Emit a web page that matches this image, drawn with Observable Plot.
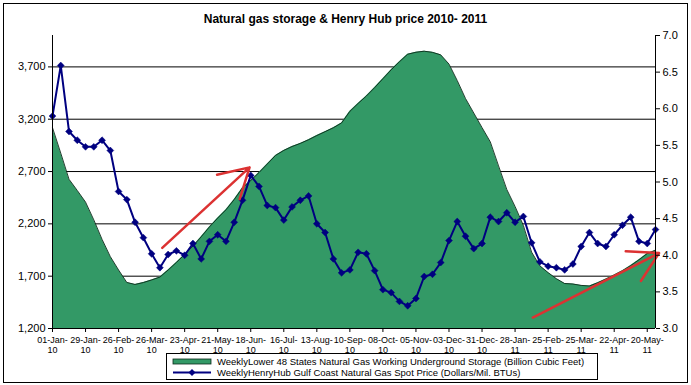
<!DOCTYPE html>
<html>
<head>
<meta charset="utf-8">
<script src="https://cdn.jsdelivr.net/npm/d3@7"></script>
<script src="https://cdn.jsdelivr.net/npm/@observablehq/plot@0.6"></script>
<style>
  html, body { margin: 0; padding: 0; background: #fff; }
  #wrap { position: relative; width: 691px; height: 385px; background: #fff;
          font-family: "Liberation Sans", Arial, sans-serif; color: #000; overflow: hidden; }
  #frame { position: absolute; left: 3px; top: 3px; width: 685px; height: 380px;
           border: 1.5px solid #000; box-sizing: border-box; }
  #title { position: absolute; left: 0; top: 11px; width: 691px; text-align: center;
           font-weight: bold; font-size: 12px; line-height: 16px; }
  #chart { position: absolute; left: 0; top: 0; }
  #legend { position: absolute; left: 166px; top: 353px; width: 432px; height: 27px;
            border: 1px solid #000; box-sizing: border-box; font-size: 9.5px; background: #fff; }
  .row { position: absolute; left: 5px; height: 11px; display: flex; align-items: center; white-space: nowrap; }
  .row svg { margin-right: 5px; }
</style>
</head>
<body>
<div id="wrap">
  <div id="frame"></div>
  <div id="chart"></div>
  <div id="title"></div>
  <div id="legend"></div>
</div>
<script>
// ---- data ----
const chartTitle = "Natural gas storage & Henry Hub price 2010- 2011";
const seriesNames = [
  "WeeklyLower 48 States Natural Gas Working Underground Storage (Billion Cubic Feet)",
  "WeeklyHenryHub Gulf Coast Natural Gas Spot Price (Dollars/Mil. BTUs)"
];
const firstWeek = "2010-01-01"; // weekly observations (Fridays)
const storage = [3119, 2876, 2626, 2519, 2408, 2238, 2052, 1887, 1759, 1640,
  1621, 1639, 1664, 1691, 1759, 1831, 1908, 1987, 2076, 2171,
  2255, 2334, 2433, 2544, 2614, 2690, 2772, 2854, 2902, 2939,
  2969, 3004, 3044, 3081, 3118, 3165, 3275, 3351, 3422, 3502,
  3587, 3672, 3749, 3821, 3840, 3850, 3839, 3815, 3727, 3569,
  3398, 3259, 3120, 2984, 2754, 2528, 2366, 2186, 1930, 1799,
  1734, 1676, 1630, 1625, 1612, 1606, 1637, 1672, 1711, 1752,
  1801, 1857, 1916, 1947];
const price = [5.90, 6.59, 5.69, 5.57, 5.48, 5.48, 5.57, 5.43, 4.87, 4.76,
  4.45, 4.24, 4.02, 3.83, 4.01, 4.06, 4.00, 4.16, 3.95, 4.19,
  4.28, 4.19, 4.45, 4.75, 5.09, 4.94, 4.68, 4.65, 4.48, 4.66,
  4.75, 4.81, 4.43, 4.31, 3.95, 3.76, 3.80, 4.04, 4.02, 3.79,
  3.53, 3.49, 3.37, 3.31, 3.41, 3.71, 3.74, 3.90, 4.20, 4.46,
  4.26, 4.09, 4.16, 4.52, 4.46, 4.58, 4.45, 4.53, 4.17, 3.91,
  3.85, 3.83, 3.80, 3.88, 4.12, 4.31, 4.16, 4.12, 4.28, 4.41,
  4.52, 4.19, 4.16, 4.35];
const storageTicks = [1200, 1700, 2200, 2700, 3200, 3700];
const storageDomain = [1200, 4000];
const priceTicks = [3.0, 3.5, 4.0, 4.5, 5.0, 5.5, 6.0, 6.5, 7.0];
const priceDomain = [3, 7];
const labelEvery = 4; // a date label every 4 weeks
// hand-drawn red annotation arrows (date, price)
const arrows = [
  {from: "2010-04-04", p1: 4.10, to: "2010-06-17", p2: 5.20},
  {from: "2011-02-12", p1: 3.15, to: "2011-05-30", p2: 4.03}
];

// ---- build ----
const start = new Date(firstWeek);
const rows = storage.map((s, i) => ({
  date: d3.utcDay.offset(start, 7 * i), storage: s, price: price[i]
}));
const dates = rows.map(d => d.date);
const tickDates = dates.filter((d, i) => i % labelEvery === 0);
const toLeft = d3.scaleLinear(priceDomain, storageDomain);
const fmtTop = d3.utcFormat("%d-%b-");
const fmtYr = d3.utcFormat("%y");
const arrowRows = arrows.map(a => ({x1: new Date(a.from), y1: toLeft(a.p1), x2: new Date(a.to), y2: toLeft(a.p2)}));

const GREEN = "#339966", NAVY = "#000080", RED = "#dc3232";

const chart = Plot.plot({
  width: 691, height: 385,
  marginLeft: 52, marginRight: 36, marginTop: 35, marginBottom: 57,
  style: {background: "none", fontFamily: "'Liberation Sans', Arial, sans-serif", fontSize: "11px", color: "#000"},
  x: {type: "utc", domain: [dates[0], dates[dates.length - 1]], label: null},
  y: {domain: storageDomain, label: null},
  marks: [
    Plot.gridY(storageTicks.slice(1), {stroke: "#000", strokeOpacity: 1, strokeWidth: 1}),
    Plot.areaY(rows, {x: "date", y1: () => storageDomain[0], y2: "storage", fill: GREEN, fillOpacity: 1}),
    Plot.line(rows, {x: "date", y: "storage", stroke: "#0b2a1a", strokeWidth: 0.9}),
    Plot.line(rows, {x: "date", y: d => toLeft(d.price), stroke: NAVY, strokeWidth: 2}),
    Plot.dot(rows, {x: "date", y: d => toLeft(d.price), symbol: "diamond2", fill: NAVY, stroke: NAVY, strokeWidth: 0.5, r: 3.1}),
    Plot.arrow(arrowRows, {x1: "x1", y1: "y1", x2: "x2", y2: "y2", stroke: RED, strokeWidth: 2.5, headLength: 20}),
    Plot.ruleX([dates[0], dates[dates.length - 1]], {stroke: "#000", strokeWidth: 1}),
    Plot.ruleY([storageDomain[0]], {stroke: "#000", strokeWidth: 1}),
    Plot.axisY({anchor: "left", ticks: storageTicks, tickFormat: d3.format(","), tickSize: 4, tickPadding: 3, fontSize: 11, label: null}),
    Plot.axisY({anchor: "right", ticks: priceTicks.map(toLeft), tickFormat: d => toLeft.invert(d).toFixed(1), tickSize: 4, tickPadding: 3, fontSize: 11, label: null}),
    Plot.axisX({ticks: tickDates, tickFormat: d => fmtTop(d) + "\n" + fmtYr(d), tickSize: 4, tickPadding: 3, fontSize: 9, lineHeight: 1.15, label: null})
  ]
});
document.getElementById("chart").appendChild(chart);
document.getElementById("title").textContent = chartTitle;

// legend
const legend = document.getElementById("legend");
const swatches = [
  `<svg width="40" height="9"><rect x="1" y="2" width="38" height="5" fill="${GREEN}" stroke="#0b2a1a" stroke-width="0.8"/></svg>`,
  `<svg width="40" height="9"><line x1="1" x2="39" y1="4.5" y2="4.5" stroke="${NAVY}" stroke-width="2"/><path d="M20,1 L23.5,4.5 L20,8 L16.5,4.5 Z" fill="${NAVY}"/></svg>`
];
seriesNames.forEach((name, i) => {
  const row = document.createElement("div");
  row.className = "row";
  row.style.top = (2 + i * 11) + "px";
  row.innerHTML = swatches[i] + `<span></span>`;
  row.querySelector("span").textContent = name;
  legend.appendChild(row);
});
</script>
</body>
</html>
